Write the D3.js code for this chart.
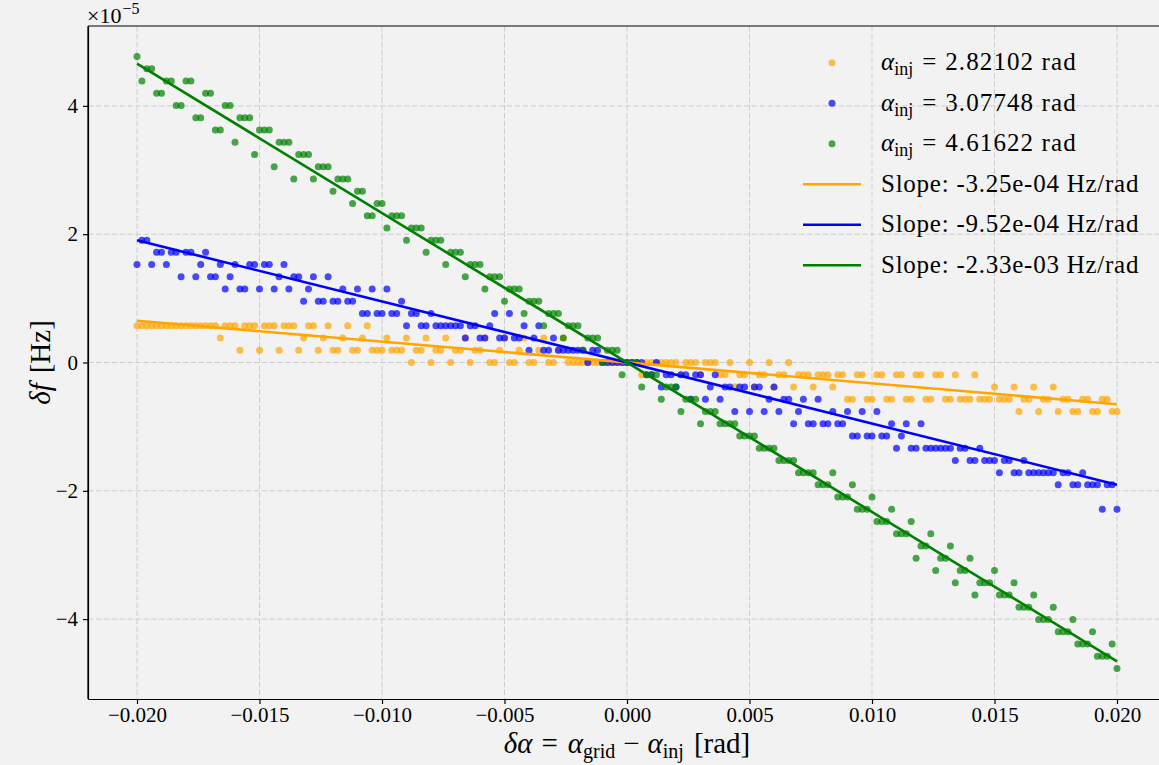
<!DOCTYPE html>
<html><head><meta charset="utf-8">
<script src="https://cdn.jsdelivr.net/npm/d3@7"></script>
<style>
body{margin:0;background:#f2f2f2;}
svg{display:block;font-family:'Liberation Serif','Times New Roman',serif;}
</style>
</head><body>
<svg id="chart" width="1159" height="765"></svg>
<script>
// grid offsets δα (rad)
const deltaAlpha = [
-0.0200,-0.0198,-0.0196,-0.0194,-0.0192,-0.0190,-0.0188,-0.0186,-0.0184,-0.0182,
-0.0180,-0.0178,-0.0176,-0.0174,-0.0172,-0.0170,-0.0168,-0.0166,-0.0164,-0.0162,
-0.0160,-0.0158,-0.0156,-0.0154,-0.0152,-0.0150,-0.0148,-0.0146,-0.0144,-0.0142,
-0.0140,-0.0138,-0.0136,-0.0134,-0.0132,-0.0130,-0.0128,-0.0126,-0.0124,-0.0122,
-0.0120,-0.0118,-0.0116,-0.0114,-0.0112,-0.0110,-0.0108,-0.0106,-0.0104,-0.0102,
-0.0100,-0.0098,-0.0096,-0.0094,-0.0092,-0.0090,-0.0088,-0.0086,-0.0084,-0.0082,
-0.0080,-0.0078,-0.0076,-0.0074,-0.0072,-0.0070,-0.0068,-0.0066,-0.0064,-0.0062,
-0.0060,-0.0058,-0.0056,-0.0054,-0.0052,-0.0050,-0.0048,-0.0046,-0.0044,-0.0042,
-0.0040,-0.0038,-0.0036,-0.0034,-0.0032,-0.0030,-0.0028,-0.0026,-0.0024,-0.0022,
-0.0020,-0.0018,-0.0016,-0.0014,-0.0012,-0.0010,-0.0008,-0.0006,-0.0004,-0.0002,
0.0000,0.0002,0.0004,0.0006,0.0008,0.0010,0.0012,0.0014,0.0016,0.0018,
0.0020,0.0022,0.0024,0.0026,0.0028,0.0030,0.0032,0.0034,0.0036,0.0038,
0.0040,0.0042,0.0044,0.0046,0.0048,0.0050,0.0052,0.0054,0.0056,0.0058,
0.0060,0.0062,0.0064,0.0066,0.0068,0.0070,0.0072,0.0074,0.0076,0.0078,
0.0080,0.0082,0.0084,0.0086,0.0088,0.0090,0.0092,0.0094,0.0096,0.0098,
0.0100,0.0102,0.0104,0.0106,0.0108,0.0110,0.0112,0.0114,0.0116,0.0118,
0.0120,0.0122,0.0124,0.0126,0.0128,0.0130,0.0132,0.0134,0.0136,0.0138,
0.0140,0.0142,0.0144,0.0146,0.0148,0.0150,0.0152,0.0154,0.0156,0.0158,
0.0160,0.0162,0.0164,0.0166,0.0168,0.0170,0.0172,0.0174,0.0176,0.0178,
0.0180,0.0182,0.0184,0.0186,0.0188,0.0190,0.0192,0.0194,0.0196,0.0198,
0.0200];

// frequency resolution of the search (Hz per bin)
const binWidthHz = 1.9073e-6;

// δf, in frequency bins
const orangeBins = [
3,3,3,3,3,3,3,3,3,3,
3,3,3,3,3,3,3,2,3,3,
3,1,3,3,3,1,3,3,3,1,
3,3,3,1,2,3,3,1,2,3,
1,1,2,3,1,1,2,3,1,1,
1,2,1,1,1,2,0,1,1,2,
0,1,1,2,0,1,1,2,0,1,
1,2,0,0,1,2,0,0,1,2,
0,0,1,2,0,0,1,2,0,0,
0,0,0,0,0,0,0,0,0,0,
0,0,0,-1,0,0,0,0,0,0,
0,-1,0,0,0,-1,0,0,0,-1,
-1,0,-2,-1,-1,0,-2,-1,-1,0,
-2,-1,-1,0,-2,-1,-1,-1,-2,-1,
-1,-1,-2,-1,-1,-3,-3,-1,-1,-3,
-3,-1,-1,-3,-3,-1,-1,-3,-3,-1,
-1,-3,-3,-1,-1,-3,-3,-1,-3,-3,
-3,-1,-3,-3,-3,-2,-3,-3,-3,-2,
-4,-3,-3,-2,-4,-3,-3,-2,-4,-3,
-3,-4,-4,-3,-3,-4,-4,-3,-3,-4,
-4];
const blueBins = [
8,10,10,8,9,9,8,9,9,7,
9,9,7,8,9,7,7,8,6,7,
8,6,6,8,8,6,8,8,6,7,
8,6,7,7,5,6,7,5,5,7,
5,5,6,5,5,6,4,4,6,4,
4,6,4,4,5,3,4,4,3,3,
4,3,3,3,3,3,3,2,3,3,
2,2,3,4,2,2,4,2,2,3,
1,2,3,1,1,2,1,1,1,1,
1,1,0,1,1,0,0,0,0,0,
0,0,0,0,-1,-1,0,-2,-1,-1,
-2,-1,-1,-3,-1,-1,-3,-2,-1,-3,
-2,-2,-4,-2,-2,-4,-2,-2,-4,-3,
-2,-4,-3,-3,-5,-4,-3,-5,-5,-3,
-5,-5,-4,-5,-5,-4,-6,-6,-4,-6,
-6,-4,-6,-6,-5,-7,-6,-5,-7,-7,
-5,-7,-7,-7,-7,-7,-7,-8,-7,-7,
-8,-8,-7,-8,-8,-8,-9,-8,-8,-9,
-9,-8,-9,-9,-9,-9,-9,-9,-10,-9,
-9,-10,-10,-9,-10,-10,-10,-12,-10,-10,
-12];
const greenBins = [
25,23,24,24,22,22,23,23,21,21,
23,23,20,20,22,22,19,19,21,21,
18,20,20,20,17,19,19,19,16,18,
18,18,15,17,17,17,15,16,16,16,
14,15,15,15,13,14,14,12,12,13,
13,11,12,12,12,10,11,11,11,9,
10,10,10,8,9,9,9,7,8,8,
8,6,7,7,7,5,6,6,6,4,
5,5,5,3,4,4,4,2,3,3,
3,1,2,2,2,0,1,1,1,-1,
0,0,0,-2,-1,-1,-1,-3,-2,-2,
-2,-4,-3,-3,-3,-5,-4,-4,-4,-5,
-5,-5,-5,-6,-6,-6,-6,-7,-7,-7,
-7,-8,-8,-8,-8,-9,-9,-9,-9,-10,
-10,-10,-9,-11,-11,-11,-10,-12,-12,-12,
-11,-13,-13,-13,-12,-14,-14,-14,-13,-16,
-15,-15,-14,-17,-16,-16,-15,-18,-17,-17,
-16,-19,-18,-18,-18,-17,-19,-19,-19,-18,
-20,-20,-20,-19,-21,-21,-21,-20,-22,-22,
-22,-21,-23,-23,-23,-22,-24,-24,-24,-23,
-25];

const injectedAlpha = ["2.82102", "3.07748", "4.61622"];
const fitSlopes = [-3.25e-4, -9.52e-4, -2.33e-3];      // Hz/rad
const slopeLabels = ["-3.25e-04", "-9.52e-04", "-2.33e-03"];
const seriesColors = ["orange", "blue", "green"];
const xTickValues = [-0.020, -0.015, -0.010, -0.005, 0.000, 0.005, 0.010, 0.015, 0.020];
const yTickValues = [-4e-5, -2e-5, 0, 2e-5, 4e-5];
const yOffsetExponent = -5;

const W = 1159, H = 765;
const plot = {left: 88, right: 1166, top: 26, bottom: 699};
const BG = "#f2f2f2";

const svg = d3.select("#chart");
svg.append("rect").attr("width", W).attr("height", H).attr("fill", BG);

const binsList = [orangeBins, blueBins, greenBins];
const series = binsList.map((b, s) => b.map((k, i) => ({x: deltaAlpha[i], y: k * binWidthHz, s})));

// matplotlib-like 5% margins
const xExt = d3.extent(deltaAlpha);
const allY = series.flat().map(d => d.y);
const yExt = d3.extent(allY);
const xPad = (xExt[1] - xExt[0]) * 0.05, yPad = (yExt[1] - yExt[0]) * 0.05;
const x = d3.scaleLinear().domain([xExt[0] - xPad, xExt[1] + xPad]).range([plot.left, plot.right]);
const y = d3.scaleLinear().domain([yExt[0] - yPad, yExt[1] + yPad]).range([plot.bottom, plot.top]);

// grid
const grid = svg.append("g").attr("stroke", "#cdcdcd").attr("stroke-width", 1).attr("stroke-dasharray", "5.5,2.4");
grid.selectAll("line.gx").data(xTickValues).join("line")
  .attr("x1", d => x(d)).attr("x2", d => x(d)).attr("y1", plot.top).attr("y2", plot.bottom);
grid.selectAll("line.gy").data(yTickValues).join("line")
  .attr("x1", plot.left).attr("x2", plot.right).attr("y1", d => y(d)).attr("y2", d => y(d));

// scatter
const pts = svg.append("g");
series.forEach((data, s) => {
  pts.append("g").selectAll("circle").data(data).join("circle")
    .attr("cx", d => x(d.x)).attr("cy", d => y(d.y)).attr("r", 3.5)
    .attr("fill", seriesColors[s]).attr("fill-opacity", 0.7);
});

// fit lines
const fit = svg.append("g");
fitSlopes.forEach((m, s) => {
  fit.append("line")
    .attr("x1", x(xExt[0])).attr("y1", y(m * xExt[0]))
    .attr("x2", x(xExt[1])).attr("y2", y(m * xExt[1]))
    .attr("stroke", seriesColors[s]).attr("stroke-width", 2.6);
});

// axes
const fmtX = d3.format(".3f");
const xAxis = svg.append("g").attr("transform", `translate(0,${plot.bottom})`)
  .call(d3.axisBottom(x).tickValues(xTickValues).tickFormat(fmtX).tickSize(5).tickPadding(3).tickSizeOuter(0));
const yAxis = svg.append("g").attr("transform", `translate(${plot.left},0)`)
  .call(d3.axisLeft(y).tickValues(yTickValues).tickFormat(d => d3.format("d")(Math.round(d / Math.pow(10, yOffsetExponent)))).tickSize(5).tickPadding(5).tickSizeOuter(0));
[xAxis, yAxis].forEach(a => {
  a.selectAll("text").attr("font-size", 21).attr("fill", "#000").attr("font-family", "'Liberation Serif',serif");
  a.selectAll("line").attr("stroke", "#000").attr("stroke-width", 1.2);
  a.select(".domain").attr("stroke", "#000").attr("stroke-width", 1.2);
});
// top and left spines
svg.append("line").attr("x1", plot.left).attr("x2", plot.right).attr("y1", plot.top).attr("y2", plot.top)
  .attr("stroke", "#000").attr("stroke-width", 1.2);
svg.append("line").attr("x1", plot.left).attr("x2", plot.left).attr("y1", plot.top).attr("y2", plot.bottom)
  .attr("stroke", "#000").attr("stroke-width", 1.2);

// offset text ×10^-5
const off = svg.append("text").attr("x", 87).attr("y", 23).attr("font-size", 22);
off.append("tspan").text("×10");
off.append("tspan").attr("font-size", 16).attr("dy", -9).attr("dx", 1).text("−" + Math.abs(yOffsetExponent));

// axis labels
const xl = svg.append("text").attr("x", (plot.left + plot.right) / 2).attr("y", 753)
  .attr("text-anchor", "middle").attr("font-size", 29);
xl.append("tspan").attr("font-style", "italic").text("δα");
xl.append("tspan").attr("dx", 9).text("=");
xl.append("tspan").attr("dx", 10).attr("font-style", "italic").text("α");
xl.append("tspan").attr("font-size", 20).attr("dy", 5).text("grid");
xl.append("tspan").attr("dy", -5).attr("dx", 8).text("−");
xl.append("tspan").attr("dx", 8).attr("font-style", "italic").text("α");
xl.append("tspan").attr("font-size", 20).attr("dy", 5).text("inj");
xl.append("tspan").attr("dy", -5).attr("dx", 10).text("[rad]");

const yl = svg.append("text").attr("transform", `translate(50,${(plot.top + plot.bottom) / 2}) rotate(-90)`)
  .attr("text-anchor", "middle").attr("font-size", 29);
yl.append("tspan").attr("font-style", "italic").text("δf");
yl.append("tspan").attr("dx", 10).text("[Hz]");

// legend
const leg = svg.append("g");
const rowY0 = 62.7, rowStep = 40.5;
injectedAlpha.forEach((a, s) => {
  const cy = rowY0 + s * rowStep;
  leg.append("circle").attr("cx", 832).attr("cy", cy).attr("r", 3.5)
    .attr("fill", seriesColors[s]).attr("fill-opacity", 0.7);
  const t = leg.append("text").attr("x", 881).attr("y", cy + 7.5).attr("font-size", 25);
  t.append("tspan").attr("font-style", "italic").text("α");
  t.append("tspan").attr("font-size", 18).attr("dy", 5).text("inj");
  t.append("tspan").attr("dy", -5).attr("dx", 9).text("=");
  t.append("tspan").attr("dx", 9).attr("letter-spacing", 1.1).text(a + " rad");
});
slopeLabels.forEach((lab, s) => {
  const cy = rowY0 + (s + 3) * rowStep;
  leg.append("line").attr("x1", 803).attr("x2", 861).attr("y1", cy).attr("y2", cy)
    .attr("stroke", seriesColors[s]).attr("stroke-width", 2.6);
  leg.append("text").attr("x", 881).attr("y", cy + 7.5).attr("font-size", 25).attr("letter-spacing", 0.75)
    .text("Slope: " + lab + " Hz/rad");
});
</script>
</body></html>
